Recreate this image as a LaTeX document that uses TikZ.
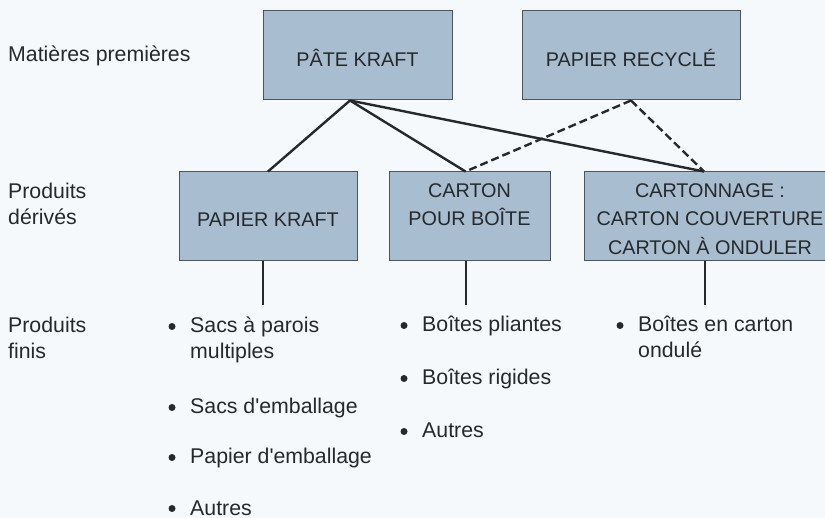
\documentclass[tikz,border=0pt]{standalone}
\usepackage{fontspec}
\setmainfont{Liberation Sans}
\definecolor{bg}{HTML}{F5F9FB}
\definecolor{boxfill}{HTML}{A8BDCF}
\definecolor{boxline}{HTML}{4E5458}
\definecolor{ink}{HTML}{26292C}
\begin{document}
\begin{tikzpicture}[x=1pt,y=-1pt,
  boxnode/.style={draw=boxline, line width=1pt, fill=boxfill, minimum height=89pt, inner sep=0pt},
  boxtext/.style={font=\fontsize{19.8}{28}\selectfont, text=ink, inner sep=0pt, anchor=base},
  lbl/.style={font=\fontsize{21.3}{26}\selectfont, text=ink, inner sep=0pt, anchor=base west},
  dot/.style={circle, fill=ink, inner sep=0pt, minimum size=7pt},
  link/.style={line width=2.4pt, draw=ink},
  dlink/.style={link, dash pattern=on 8pt off 4pt}]
\fill[bg] (0,0) rectangle (825,518);
\useasboundingbox (0,0) rectangle (825,518);
\clip (0,0) rectangle (825,518);

% boxes
\node[boxnode, minimum width=189pt] (pate) at (357.5,55.5) {};
\node[boxnode, minimum width=218pt] (recy) at (631,55.5) {};
\node[boxnode, minimum width=178pt] (pk) at (268,216.5) {};
\node[boxnode, minimum width=161pt] (cpb) at (469.5,216.5) {};
\node[boxnode, minimum width=252pt] (cart) at (710,216.5) {};

% box texts
\node[boxtext] (pate-t) at (357.5,67) {PÂTE KRAFT};
\node[boxtext] (recy-t) at (631,67) {PAPIER RECYCLÉ};
\node[boxtext] (pk-t) at (268,227) {PAPIER KRAFT};
\node[boxtext] (cpb-t1) at (469.5,198) {CARTON};
\node[boxtext] (cpb-t2) at (469.5,226) {POUR BOÎTE};
\node[boxtext] (cart-t1) at (710,198) {CARTONNAGE :};
\node[boxtext] (cart-t2) at (710,226) {CARTON COUVERTURE};
\node[boxtext] (cart-t3) at (710,255) {CARTON À ONDULER};

% row labels
\node[lbl] (l1) at (8,62) {Matières premières};
\node[lbl] (l2a) at (8,199) {Produits};
\node[lbl] (l2b) at (8,225) {dérivés};
\node[lbl] (l3a) at (8,333) {Produits};
\node[lbl] (l3b) at (8,359) {finis};

% connectors
\coordinate (pj) at ([xshift=-7.5pt]pate.south);
\draw[link] (pj) -- (pk.north);
\draw[link] (pj) -- ([xshift=-4pt]cpb.north);
\draw[link] (pj) -- ([xshift=-6pt]cart.north);
\draw[dlink] (recy.south) -- ([xshift=-4pt]cpb.north);
\draw[dlink] (recy.south) -- ([xshift=-6pt]cart.north);

\coordinate (e1) at (263,305);
\coordinate (e2) at (466,305);
\coordinate (e3) at (705,305);
\draw[link] ([xshift=-5pt]pk.south) -- (e1);
\draw[link] ([xshift=-3.5pt]cpb.south) -- (e2);
\draw[link] ([xshift=-5pt]cart.south) -- (e3);

% list 1
\node[dot] (b11) at (172,326.5) {};
\node[lbl] (i11a) at (190,333) {Sacs à parois};
\node[lbl] (i11b) at (190,359) {multiples};
\node[dot] (b12) at (172,407.5) {};
\node[lbl] (i12) at (190,414) {Sacs d\textquotesingle emballage};
\node[dot] (b13) at (172,457.5) {};
\node[lbl] (i13) at (190,464) {Papier d\textquotesingle emballage};
\node[dot] (b14) at (172,508.5) {};
\node[lbl] (i14) at (190,515) {Autres};

% list 2
\node[dot] (b21) at (404,325.5) {};
\node[lbl] (i21) at (422,332) {Boîtes pliantes};
\node[dot] (b22) at (404,378.5) {};
\node[lbl] (i22) at (422,385) {Boîtes rigides};
\node[dot] (b23) at (404,431.5) {};
\node[lbl] (i23) at (422,438) {Autres};

% list 3
\node[dot] (b31) at (620,325.5) {};
\node[lbl] (i31a) at (638,332) {Boîtes en carton};
\node[lbl] (i31b) at (638,358) {ondulé};
\end{tikzpicture}
\end{document}
